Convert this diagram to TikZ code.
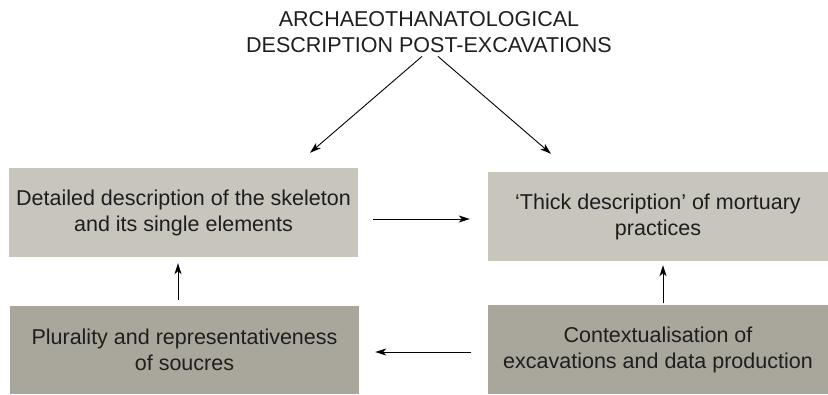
\documentclass[tikz,border=0pt]{standalone}
\usepackage{fontspec}
\setmainfont{Liberation Sans}
\usepackage{xcolor}
\usepackage{tikz}
\usetikzlibrary{arrows.meta,positioning}
\definecolor{stonelight}{HTML}{C8C5BD}
\definecolor{stonedark}{HTML}{A9A69B}
\definecolor{inkgray}{HTML}{1E1E1E}
\tikzset{
    stagebox/.style={inner sep=0pt, align=center, text=inkgray,
        font=\fontsize{21.5}{26}\selectfont},
    lightbox/.style={stagebox, fill=stonelight},
    darkbox/.style={stagebox, fill=stonedark},
    flow/.style={draw=black, line width=0.9pt,
        -{Stealth[length=11pt,width=7pt,inset=3pt]}}
}

\begin{document}
\begin{tikzpicture}[x=1pt, y=-1pt]
        \useasboundingbox (0,0) rectangle (828,394);
        \node[stagebox, anchor=base] (title) at (429,52)
            {ARCHAEOTHANATOLOGICAL\\DESCRIPTION POST-EXCAVATIONS};
        \node[lightbox, minimum width=349pt, minimum height=89pt] (skeleton) at (183.5,212.5)
            {Detailed description of the skeleton\\and its single elements};
        \node[lightbox, minimum width=340pt, minimum height=89pt] (thick) at (658,216.5)
            {`Thick description' of mortuary\\practices};
        \node[darkbox, minimum width=349pt, minimum height=88pt] (plurality) at (184.5,350)
            {Plurality and representativeness\\of soucres};
        \node[darkbox, minimum width=340pt, minimum height=89pt] (context) at (658,349.5)
            {Contextualisation of\\excavations and data production};
        \draw[flow] ([xshift=-7pt,yshift=-4pt]title.south) -- ([xshift=126.5pt,yshift=15pt]skeleton.north);
        \draw[flow] ([xshift=9pt,yshift=-4pt]title.south) -- ([xshift=-107pt,yshift=18pt]thick.north);
        \draw[flow] ([xshift=15pt,yshift=-6.5pt]skeleton.east) -- ([xshift=-18pt,yshift=-2.5pt]thick.west);
        \draw[flow] ([xshift=-17pt,yshift=-2.5pt]context.west) -- ([xshift=16pt,yshift=-2pt]plurality.east);
        \draw[flow] ([xshift=-6.5pt,yshift=6pt]plurality.north) -- ([xshift=-5.5pt,yshift=-6pt]skeleton.south);
        \draw[flow] ([xshift=5pt,yshift=2pt]context.north) -- ([xshift=5pt,yshift=-4pt]thick.south);
    \end{tikzpicture}
\end{document}
